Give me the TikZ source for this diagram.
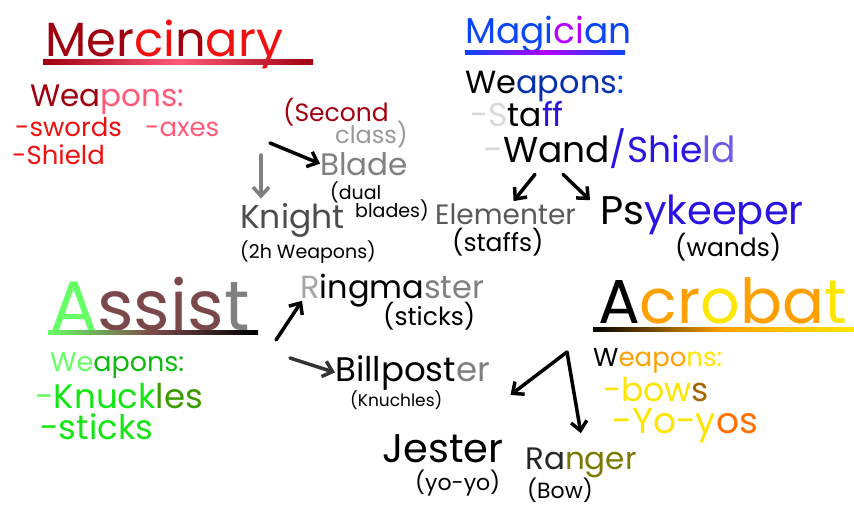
\documentclass[tikz,border=0pt]{standalone}
\usepackage{fontspec}
\setmainfont{Poppins}
\usepackage{xcolor}
\usetikzlibrary{arrows.meta,calc}
\tikzstyle{arrow} = [-{Straight Barb[length=9pt,width=16pt]}, line width=3.5pt, line cap=round]
\newcommand{\handfont}[1]{\fontsize{#1}{#1}\selectfont}
\definecolor{mercdark}{HTML}{A0000F}
\definecolor{mercred}{HTML}{F01010}
\definecolor{mercpink}{HTML}{FF5A78}
\definecolor{magblue}{HTML}{0A46F5}
\definecolor{magpurple}{HTML}{B400FF}
\definecolor{magindigo}{HTML}{2A14E0}
\definecolor{assgreen}{HTML}{66FF66}
\definecolor{assbrown}{HTML}{7A4848}
\definecolor{assgray}{HTML}{808080}
\definecolor{assleaf}{HTML}{14E614}
\definecolor{assolive}{HTML}{3C9A00}
\definecolor{acroorange}{HTML}{FFA000}
\definecolor{acroyellow}{HTML}{FFE600}
\definecolor{acrobrown}{HTML}{A86400}
\definecolor{acrored}{HTML}{FF7000}
\definecolor{rangerolive}{HTML}{7A7A00}
\begin{document}
\begin{tikzpicture}[x=1pt,y=-1pt]
\useasboundingbox (0,0) rectangle (854,512);
% Mercinary
\node[anchor=base west, inner sep=0pt, font=\handfont{48}] (merc) at (45,56) {\color{mercdark}Mer\color{mercred}ci\color{mercdark}n\color{mercred}ary};
\shade[left color=mercdark, right color=mercdark, middle color=mercpink] (43,59) rectangle (313,64);
\node[anchor=base west, inner sep=0pt, font=\handfont{31}] (mercweap) at (30,106) {\color{mercdark}Wea\color{mercpink}pons:};
\node[anchor=base west, inner sep=0pt, font=\handfont{26}, mercred] (mercsword) at (15,136) {-swords};
\node[anchor=base west, inner sep=0pt, font=\handfont{26}, mercpink] (mercaxe) at (145,136) {-axes};
\node[anchor=base west, inner sep=0pt, font=\handfont{26}, mercred] (mercshield) at (12,164) {-Shield};
\node[anchor=base west, inner sep=0pt, font=\handfont{25}, mercdark] (second) at (283,121) {(Second};
\node[anchor=base west, inner sep=0pt, font=\handfont{24}, gray!80] (secondcl) at (335,143) {class)};
\node[anchor=base west, inner sep=0pt, font=\handfont{31}, gray] (blade) at (320,175) {Blade};
\node[anchor=base west, inner sep=0pt, font=\handfont{19}] (bladew) at (330,199) {(dual};
\node[anchor=base west, inner sep=0pt, font=\handfont{19}] (bladew2) at (355,217) {blades)};
\node[anchor=base west, inner sep=0pt, font=\handfont{33}, black!70] (knight) at (240,228) {Knight};
\node[anchor=base west, inner sep=0pt, font=\handfont{19}] (knightw) at (240,258) {(2h Weapons)};
\coordinate (kstart) at (261,155);
\coordinate (bstart) at (270,143);
\draw[arrow, gray] (kstart) -- ([yshift=4pt]knight.north -| kstart);
\draw[arrow] (bstart) -- (blade.west);
% Magician
\node[anchor=base west, inner sep=0pt, font=\handfont{36}] (magi) at (465,43) {\color{magblue}Magi\color{magpurple}ci\color{magblue}an};
\shade[left color=magblue, right color=magblue, middle color=magpurple] (465,50) rectangle (625,54);
\node[anchor=base west, inner sep=0pt, font=\handfont{32}] (magweap) at (465,93) {\color{black}We\color{magblue!70!black}apons\color{magblue}:};
\node[anchor=base west, inner sep=0pt, font=\handfont{33}] (magstaff) at (470,126) {\color{black!15}-S\color{black}ta\color{magindigo}ff};
\node[anchor=base west, inner sep=0pt, font=\handfont{36}] (magwand) at (483,162) {\color{black!15}-\color{black}Wand\color{magindigo}/Shie\color{magindigo!70}ld};
\node[anchor=base west, inner sep=0pt, font=\handfont{28}, black!65] (elem) at (435,224) {Elementer};
\node[anchor=base west, inner sep=0pt, font=\handfont{25}] (elemw) at (452,251) {(staffs)};
\node[anchor=base west, inner sep=0pt, font=\handfont{40}] (psy) at (600,224) {\color{black}Ps\color{magindigo}ykeeper};
\node[anchor=base west, inner sep=0pt, font=\handfont{25}] (psyw) at (675,256) {(wands)};
\draw[arrow] ([xshift=52pt,yshift=-6pt]magwand.south west) -- ([xshift=8pt,yshift=2pt]elem.north);
\draw[arrow] ([xshift=80pt,yshift=-6pt]magwand.south west) -- ([xshift=-10pt,yshift=-6pt]psy.north west);
% Assist
\node[anchor=base west, inner sep=0pt, font=\handfont{70}] (assist) at (50,330) {\color{assgreen}A\color{assbrown}ssis\color{assgray}t};
\shade[left color=assgreen, right color=black, middle color=assbrown] (48,330) rectangle (258,334);
\node[anchor=base west, inner sep=0pt, font=\handfont{27}] (assweap) at (50,371) {\color{assgreen}We\color{assleaf!80!black}apons:};
\node[anchor=base west, inner sep=0pt, font=\handfont{34}] (assknuck) at (35,408) {\color{assgreen}-\color{assleaf}Knuck\color{assolive}les};
\node[anchor=base west, inner sep=0pt, font=\handfont{34}, assleaf] (assstick) at (40,439) {-sticks};
\node[anchor=base west, inner sep=0pt, font=\handfont{32}] (ring) at (300,298) {\color{gray!70}R\color{black}ingma\color{gray}ster};
\node[anchor=base west, inner sep=0pt, font=\handfont{25}] (ringw) at (383,325) {(sticks)};
\node[anchor=base west, inner sep=0pt, font=\handfont{34}] (bill) at (335,381) {Billpost\color{gray}er};
\node[anchor=base west, inner sep=0pt, font=\handfont{17}] (billw) at (350,406) {(Knuchles)};
\coordinate (ringstart) at (276,340);
\coordinate (billstart) at (290,358);
\draw[arrow] (ringstart) -- ([xshift=2pt,yshift=6pt]ring.south west);
\draw[arrow, black!80] (billstart) -- (bill.west);
% Acrobat
\node[anchor=base west, inner sep=0pt, font=\handfont{62}] (acro) at (598,323) {\color{black}A\color{acroorange}cr\color{acroyellow}o\color{acroorange}ba\color{acroyellow}t};
\shade[left color=black, right color=acroyellow, middle color=acroorange] (593,327) rectangle (854,331);
\node[anchor=base west, inner sep=0pt, font=\handfont{26}] (acroweap) at (593,366) {\color{black}W\color{acroorange}eapo\color{acroyellow}ns:};
\node[anchor=base west, inner sep=0pt, font=\handfont{33}] (acrobow) at (603,401) {\color{acroyellow}-bow\color{acrobrown}s};
\node[anchor=base west, inner sep=0pt, font=\handfont{36}] (acroyoyo) at (612,433) {\color{acroyellow}-Yo-y\color{acrored}os};
\node[anchor=base west, inner sep=0pt, font=\handfont{40}] (jester) at (382,462) {Jester};
\node[anchor=base west, inner sep=0pt, font=\handfont{22}] (jesterw) at (415,490) {(yo-yo)};
\node[anchor=base west, inner sep=0pt, font=\handfont{31}] (ranger) at (525,469) {\color{black!85}Ra\color{rangerolive}nger};
\node[anchor=base west, inner sep=0pt, font=\handfont{22}] (rangerw) at (527,498) {(Bow)};
\coordinate (split) at (567,352);
\draw[arrow] (split) -- ([xshift=7pt,yshift=39pt]jester.north east);
\draw[arrow] (split) -- ([yshift=14pt]ranger.north);
\end{tikzpicture}
\end{document}
